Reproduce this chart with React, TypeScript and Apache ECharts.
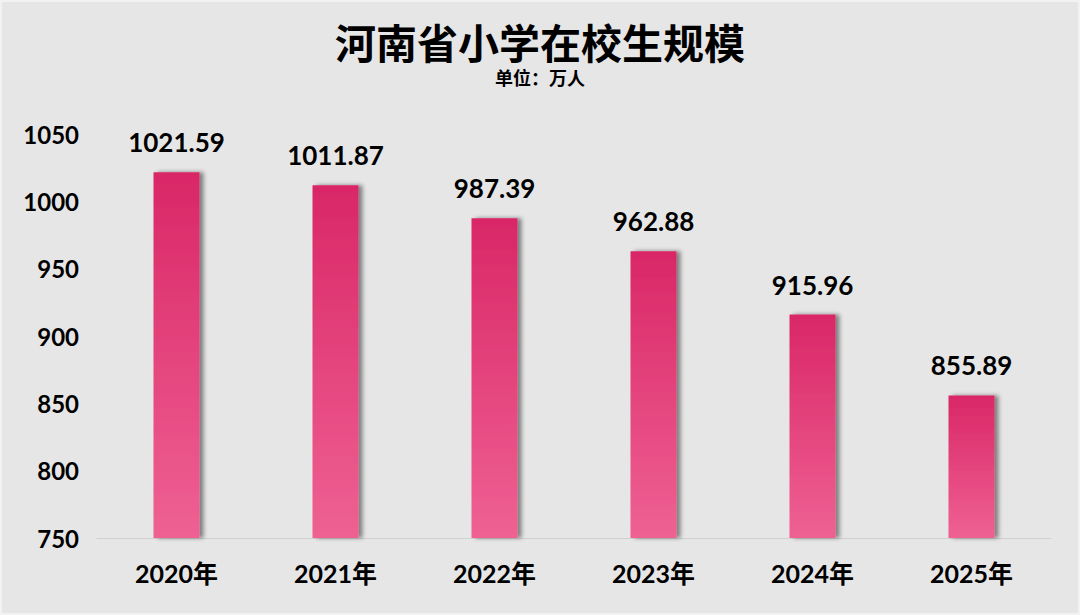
import * as echarts from 'echarts'
import { useEffect, useRef } from 'react'

const years = ['2020年', '2021年', '2022年', '2023年', '2024年', '2025年']
const students = [1021.59, 1011.87, 987.39, 962.88, 915.96, 855.89]

const FONT = 'Lato, "Noto Sans CJK SC", sans-serif'

function App() {
	const chartRef = useRef<HTMLDivElement>(null)

	useEffect(() => {
		document.body.style.margin = '0'
		const chart = echarts.init(chartRef.current, null, { renderer: 'svg' })

		chart.setOption({
			animation: false,
			backgroundColor: '#e6e6e6',
			title: {
				text: '河南省小学在校生规模',
				subtext: '单位：万人',
				left: 'center',
				top: 16,
				itemGap: 5,
				textStyle: { fontFamily: FONT, fontSize: 41, fontWeight: 'bold', color: '#000' },
				subtextStyle: { fontFamily: FONT, fontSize: 18, fontWeight: 'bold', color: '#000' },
			},
			grid: { left: 95, right: 27, top: 132, bottom: 75 },
			xAxis: {
				type: 'category',
				data: years,
				axisTick: { show: false },
				axisLine: { lineStyle: { color: '#d0d0d0', width: 1 } },
				axisLabel: {
					margin: 22,
					fontFamily: FONT,
					fontSize: 25,
					fontWeight: 'bold',
					color: '#000',
				},
			},
			yAxis: {
				type: 'value',
				min: 750,
				max: 1050,
				interval: 50,
				splitLine: { show: false },
				axisLabel: {
					margin: 18,
					fontFamily: FONT,
					fontSize: 24,
					fontWeight: 'bold',
					color: '#000',
					formatter: (v: number) => String(v),
				},
			},
			series: [
				{
					type: 'bar',
					data: students,
					barWidth: 46,
					itemStyle: {
						color: new echarts.graphic.LinearGradient(0, 0, 0, 1, [
							{ offset: 0, color: '#d92766' },
							{ offset: 1, color: '#ef6193' },
						]),
						shadowColor: 'rgba(0,0,0,0.45)',
						shadowBlur: 4,
						shadowOffsetX: 4,
						shadowOffsetY: 0,
					},
					label: {
						show: true,
						position: 'top',
						distance: 17,
						fontFamily: FONT,
						fontSize: 26,
						fontWeight: 'bold',
						color: '#000',
						formatter: (p: any) => p.value.toFixed(2),
					},
				},
			],
		})

		return () => {
			chart.dispose()
		}
	}, [])

	return (
		<div
			ref={chartRef}
			style={{ width: '1080px', height: '615px', boxSizing: 'border-box', border: '2px solid #f2f2f2' }}
		/>
	)
}

export default App
